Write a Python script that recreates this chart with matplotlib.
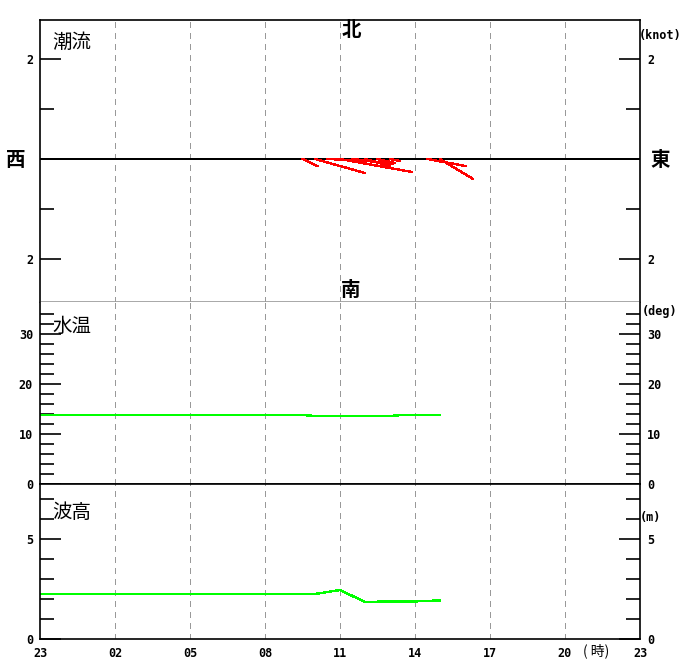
import matplotlib
matplotlib.use("Agg")
import matplotlib.pyplot as plt
import numpy as np

# x axis = hours after 23:00 of the previous day (0..24)
hour_ticks = [0, 3, 6, 9, 12, 15, 18, 21, 24]
hour_labels = ["23", "02", "05", "08", "11", "14", "17", "20", "23"]

# tidal current (knots): east component u, north component v
cur_time = [9.5, 10.0, 10.5, 11.0, 11.5, 12.0, 12.5, 13.0, 14.5, 15.0]
cur_u = [0.30, 1.00, 0.95, 1.44, 0.80, 0.50, 0.34, 0.20, 0.76, 0.66]
cur_v = [-0.14, -0.28, -0.04, -0.26, -0.10, -0.14, -0.08, -0.04, -0.14, -0.40]

# water temperature (deg)
temp_time = [-1.0, 9.5, 10.0, 13.0, 13.5, 15.0]
temp_val = [13.8, 13.8, 13.6, 13.6, 13.8, 13.8]

# wave height (m)
wave_time = [-1.0, 10.0, 11.0, 12.0, 13.0, 14.0, 15.0]
wave_val = [2.25, 2.25, 2.45, 1.85, 1.88, 1.88, 1.93]

W, H = 680, 660
GREEN = "#00ff00"
mono = dict(family="DejaVu Sans Mono", weight="bold", fontsize=8.5)
cjk = ["Noto Sans CJK JP", "DejaVu Sans"]


def to_x(t):
    return (t + 1) % 24 if t < 23 else t - 23


def px(x, y):
    return x / W, 1 - y / H


def box(top, bottom):
    return [40 / W, 1 - bottom / H, 600 / W, (bottom - top) / H]


fig = plt.figure(figsize=(W / 100, H / 100), dpi=100)
ax1 = fig.add_axes(box(20, 302))
ax2 = fig.add_axes(box(302, 484))
ax3 = fig.add_axes(box(484, 639))

for ax in (ax1, ax2, ax3):
    ax.set_xlim(0, 24)
    ax.set_xticks(hour_ticks)
    for t in hour_ticks[1:-1]:
        ax.axvline(t, color="#999999", lw=1, ls=(0, (4, 4)), antialiased=False)
    for s in ax.spines.values():
        s.set_linewidth(1.2)
    ax.tick_params(axis="x", length=0, labelbottom=False)
    ax.tick_params(axis="y", which="both", direction="in", left=True, right=True,
                   labelleft=True, labelright=True, width=1.2, pad=5)
    ax.tick_params(axis="y", which="major", length=15)
    ax.tick_params(axis="y", which="minor", length=10)

# current panel
ax1.set_ylim(-2.86, 2.78)
ax1.set_yticks([-2, 2])
ax1.set_yticklabels(["2", "2"], **mono)
ax1.set_yticks([-1, 1], minor=True)
ax1.spines["bottom"].set_color("#999999")
ax1.axhline(0, color="black", lw=1.2, antialiased=False)
for t, u, v in zip(cur_time, cur_u, cur_v):
    x0 = to_x(t)
    ax1.plot([x0, x0 + 2 * u], [0, v], color="red", lw=1, antialiased=False)

# temperature panel
ax2.set_ylim(0, 36.4)
ax2.set_yticks([0, 10, 20, 30])
ax2.set_yticklabels(["0", "10", "20", "30"], **mono)
ax2.set_yticks(np.arange(2, 36, 2), minor=True)
ax2.spines["top"].set_visible(False)
ax2.plot([to_x(t) if t >= 0 else 0 for t in temp_time], temp_val,
         color=GREEN, lw=1, antialiased=False)

# wave panel
ax3.set_ylim(0, 7.75)
ax3.set_yticks([0, 5])
ax3.set_yticklabels(["0", "5"], **mono)
ax3.set_yticks([1, 2, 3, 4, 6, 7], minor=True)
ax3.plot([to_x(t) if t >= 0 else 0 for t in wave_time], wave_val,
         color=GREEN, lw=1, antialiased=False)
ax3.tick_params(axis="x", labelbottom=True, pad=6)
ax3.set_xticklabels(hour_labels, **mono)

# texts
fig.text(*px(72, 42), "潮流", family=cjk, fontsize=14, ha="center", va="center")
fig.text(*px(72, 326), "水温", family=cjk, fontsize=14, ha="center", va="center")
fig.text(*px(72, 513), "波高", family=cjk, fontsize=14, ha="center", va="center")
fig.text(*px(351, 31), "北", family=cjk, fontsize=14, weight="bold", ha="center", va="center")
fig.text(*px(351, 291), "南", family=cjk, fontsize=14, weight="bold", ha="center", va="center")
fig.text(*px(16, 160), "西", family=cjk, fontsize=14, weight="bold", ha="center", va="center")
fig.text(*px(660, 160), "東", family=cjk, fontsize=14, weight="bold", ha="center", va="center")
fig.text(*px(660, 36), "(knot)", ha="center", va="center", **mono)
fig.text(*px(660, 311), "(deg)", ha="center", va="center", **mono)
fig.text(*px(650, 517), "(m)", ha="center", va="center", **mono)
fig.text(*px(596, 651), "( 時)", family=cjk, fontsize=10, ha="center", va="center")

fig.savefig("out.png", dpi=100)
